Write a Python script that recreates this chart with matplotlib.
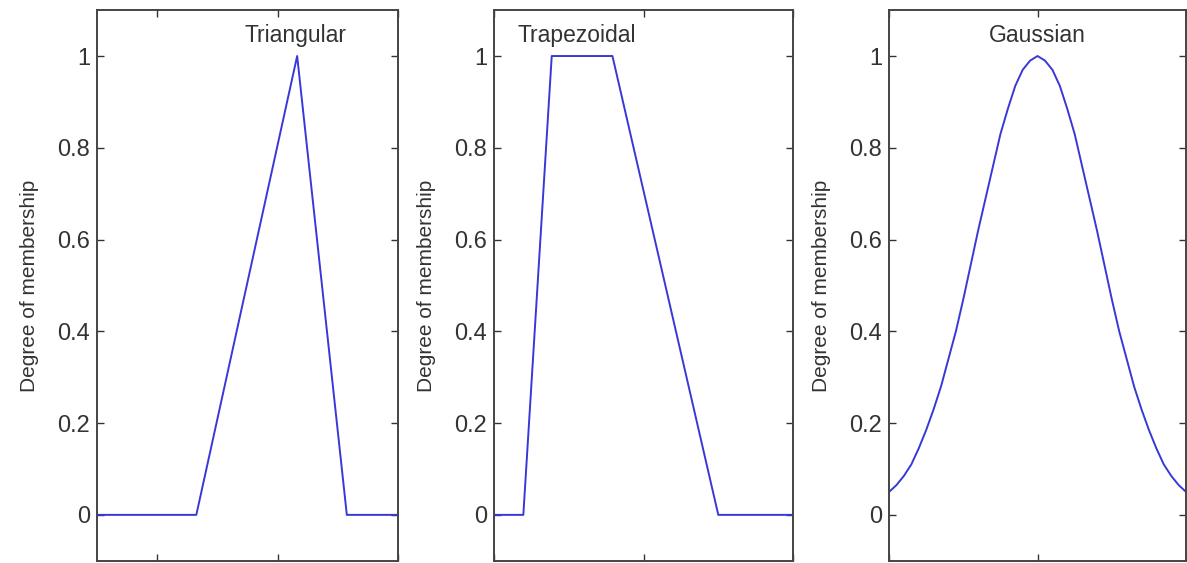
import matplotlib.pyplot as plt

# membership function samples (x in 0..10)
tri_x = [0, 3.3, 6.65, 8.3, 10]
tri_y = [0, 0, 1, 0, 0]

trap_x = [0, 0.98, 1.93, 3.96, 7.5, 10]
trap_y = [0, 0, 1, 1, 0, 0]

gauss_x = [0, 0.25, 0.5, 0.75, 1, 1.25, 1.5, 1.75, 2, 2.25, 2.5, 2.75, 3, 3.25,
           3.5, 3.75, 4, 4.25, 4.5, 4.75, 5, 5.25, 5.5, 5.75, 6, 6.25, 6.5,
           6.75, 7, 7.25, 7.5, 7.75, 8, 8.25, 8.5, 8.75, 9, 9.25, 9.5, 9.75, 10]
gauss_y = [0.05, 0.065, 0.085, 0.11, 0.145, 0.185, 0.23, 0.28, 0.34, 0.40, 0.47,
           0.545, 0.62, 0.69, 0.76, 0.83, 0.885, 0.935, 0.97, 0.99, 1.0,
           0.99, 0.97, 0.935, 0.885, 0.83, 0.76, 0.69, 0.62, 0.545, 0.47,
           0.40, 0.34, 0.28, 0.23, 0.185, 0.145, 0.11, 0.085, 0.065, 0.05]

yticks = [0, 0.2, 0.4, 0.6, 0.8, 1]
ytick_labels = ["0", "0.2", "0.4", "0.6", "0.8", "1"]

plt.rcParams['font.family'] = ['Liberation Sans', 'DejaVu Sans']

fig = plt.figure(figsize=(11.87, 5.63), dpi=100)

panels = [
    (0.0817, 0.2536, tri_x, tri_y, "Triangular", 6.6, 'center', [2, 6, 10]),
    (0.4162, 0.2519, trap_x, trap_y, "Trapezoidal", 0.8, 'left', [0, 5, 10]),
    (0.7490, 0.2502, gauss_x, gauss_y, "Gaussian", 5.0, 'center', [0, 5, 10]),
]

for left, width, xs, ys, name, tx, ha, xt in panels:
    ax = fig.add_axes([left, 0.004, width, 0.978])
    ax.plot(xs, ys, color='#3838d8', lw=1.4)
    ax.set_xlim(0, 10)
    ax.set_ylim(-0.1, 1.1)
    ax.set_xticks(xt)
    ax.set_xticklabels([])
    ax.set_yticks(yticks)
    ax.set_yticklabels(ytick_labels, fontsize=17, color='#333333')
    ax.tick_params(direction='in', length=5, width=1, colors='#333333',
                   top=True, right=True, labelcolor='#333333', pad=5)
    for s in ax.spines.values():
        s.set_color('#444444')
        s.set_linewidth(1.4)
    ax.set_ylabel("Degree of membership", fontsize=15, color='#333333', labelpad=13)
    ax.text(tx, 1.045, name, ha=ha, va='center', fontsize=16.5, color='#333333')

fig.savefig("out.png", dpi=100)
